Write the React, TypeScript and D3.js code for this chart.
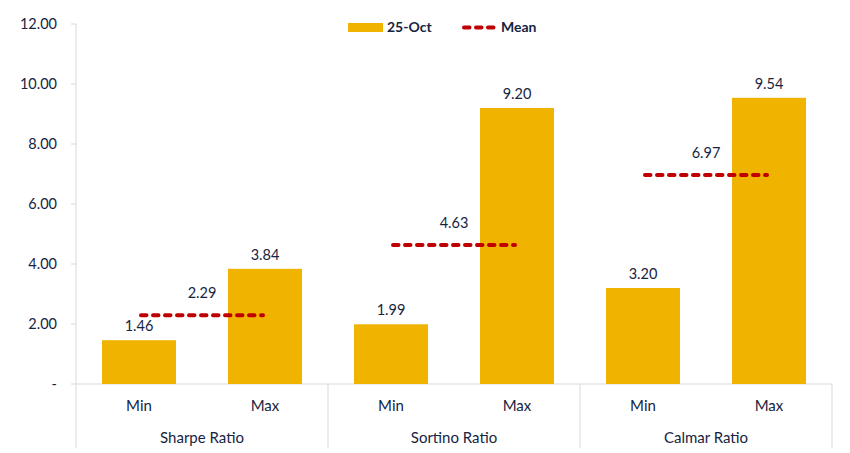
import React from "react";
import * as d3 from "d3";

const groups = ["Sharpe Ratio", "Sortino Ratio", "Calmar Ratio"];
const subCats = ["Min", "Max"];
const values = [1.46, 3.84, 1.99, 9.2, 3.2, 9.54];
const means = [2.29, 4.63, 6.97];
const yTicks = [0, 2, 4, 6, 8, 10, 12];
const seriesNames = ["25-Oct", "Mean"];

const W = 850, H = 453;
const left = 76, right = 832, top = 24, bottom = 384;
const BAR = "#efb300";
const RED = "#c00000";
const TXT = "#16243f";
const FONT = "Lato, 'Open Sans', sans-serif";

export default function App() {
  const labels = groups.flatMap((g) => subCats.map((s) => `${g}|${s}`));
  const x = d3.scaleBand<string>().domain(labels).range([left, right]).paddingInner(0.413).paddingOuter(0.2065);
  const xg = d3.scaleBand<string>().domain(groups).range([left, right]);
  const y = d3.scaleLinear().domain([0, 12]).range([bottom, top]);
  const fmt = d3.format(".2f");

  return (
    <svg width={W} height={H} style={{ position: "absolute", left: 0, top: 0 }} fontFamily={FONT}>
      {/* y axis */}
      <line x1={left} x2={left} y1={top} y2={448} stroke="#d9d9d9" strokeWidth={1} />
      {yTicks.map((t) => (
        <g key={t}>
          <line x1={left - 5} x2={left} y1={y(t)} y2={y(t)} stroke="#d9d9d9" />
          <text x={57} y={y(t)} dy="0.35em" textAnchor="end" fontSize={14.5} fill={TXT}>
            {t === 0 ? "-" : fmt(t)}
          </text>
        </g>
      ))}
      {/* x axis */}
      <line x1={left} x2={right} y1={bottom} y2={bottom} stroke="#d9d9d9" />
      {groups.map((g) => (
        <g key={g}>
          <line x1={(xg(g) as number) + xg.bandwidth()} x2={(xg(g) as number) + xg.bandwidth()} y1={bottom} y2={448} stroke="#d9d9d9" />
          <text x={(xg(g) as number) + xg.bandwidth() / 2} y={438} dy="0.35em" textAnchor="middle" fontSize={15} fill={TXT}>
            {g}
          </text>
        </g>
      ))}
      {labels.map((l, i) => {
        const bx = x(l) as number;
        const v = values[i];
        return (
          <g key={l}>
            <rect x={bx} y={y(v)} width={x.bandwidth()} height={bottom - y(v)} fill={BAR} />
            <text x={bx + x.bandwidth() / 2} y={y(v) - 14} dy="0.35em" textAnchor="middle" fontSize={14.5} fill={TXT}>
              {fmt(v)}
            </text>
            <text x={bx + x.bandwidth() / 2} y={406} dy="0.35em" textAnchor="middle" fontSize={15} fill={TXT}>
              {l.split("|")[1]}
            </text>
          </g>
        );
      })}
      {/* means */}
      {groups.map((g, i) => {
        const x1 = (x(`${g}|Min`) as number) + x.bandwidth() / 2;
        const x2 = (x(`${g}|Max`) as number) + x.bandwidth() / 2;
        const yy = y(means[i]);
        return (
          <g key={g}>
            <line x1={x1 + 2} x2={x2 - 2} y1={yy} y2={yy} stroke={RED} strokeWidth={4} strokeDasharray="5.5 6.5" strokeLinecap="round" />
            <text x={(x1 + x2) / 2} y={yy - 22} dy="0.35em" textAnchor="middle" fontSize={14.5} fill={TXT}>
              {fmt(means[i])}
            </text>
          </g>
        );
      })}
      {/* legend */}
      <rect x={348} y={23} width={35} height={9} fill={BAR} />
      <text x={387} y={27.5} dy="0.35em" fontSize={14} fontWeight="bold" fill={TXT}>{seriesNames[0]}</text>
      <line x1={464} x2={497} y1={27.5} y2={27.5} stroke={RED} strokeWidth={4} strokeDasharray="5.5 6.5" strokeLinecap="round" />
      <text x={501} y={27.5} dy="0.35em" fontSize={14} fontWeight="bold" fill={TXT}>{seriesNames[1]}</text>
    </svg>
  );
}
